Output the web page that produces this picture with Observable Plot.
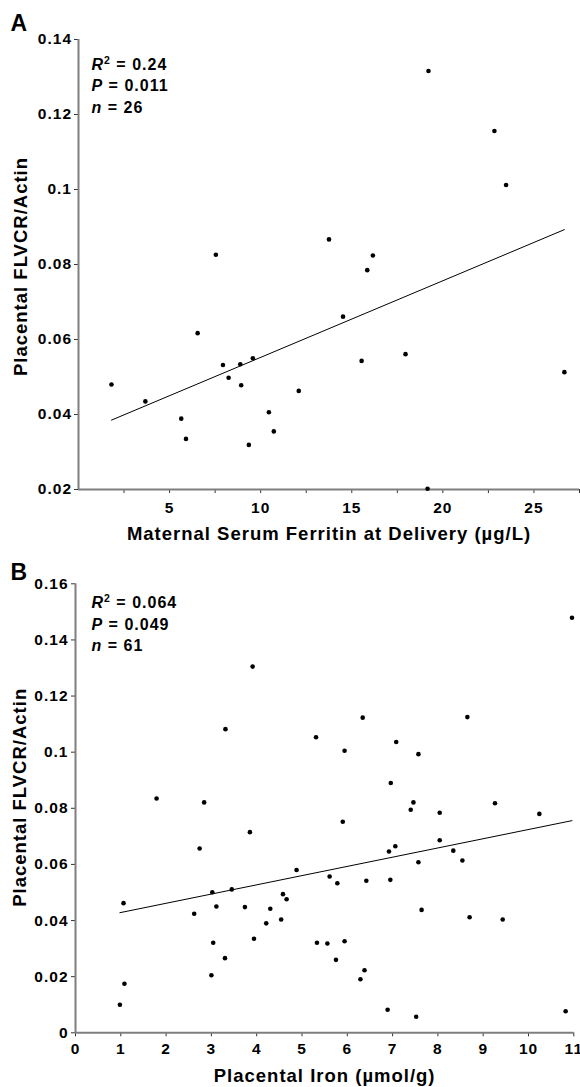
<!DOCTYPE html>
<html><head><meta charset="utf-8">
<script src="https://cdn.jsdelivr.net/npm/d3@7"></script>
<script src="https://cdn.jsdelivr.net/npm/@observablehq/plot@0.6"></script>
<style>
html,body{margin:0;padding:0;background:#fff;}
#chart{width:580px;}
#chart svg{display:block;}
#chart svg text{letter-spacing:1px;}
</style></head><body><div id="chart"></div>
<script>
// ---------- Panel A data ----------
const ferritinA = [1.81, 3.67, 5.64, 5.90, 6.54, 7.54, 7.93, 8.24, 8.88, 8.93, 9.35, 9.57, 10.45, 10.72, 12.09, 13.75, 14.52, 15.54, 15.85, 16.16, 17.95, 19.16, 19.21, 22.83, 23.47, 26.67];
const flvcrA    = [0.0480, 0.0435, 0.0389, 0.0335, 0.0617, 0.0826, 0.0532, 0.0498, 0.0534, 0.0478, 0.0319, 0.0550, 0.0406, 0.0355, 0.0463, 0.0867, 0.0661, 0.0543, 0.0785, 0.0824, 0.0561, 0.0202, 0.1316, 0.1156, 0.1012, 0.0513];
const fitAx = [1.81, 26.67];
const fitAy = [0.0385, 0.0893];
const statsA = ["R2 = 0.24", "P = 0.011", "n = 26"];
const xTicksA = [2.5, 5, 7.5, 10, 12.5, 15, 17.5, 20, 22.5, 25, 27.5];
const xLabelsA = [5, 10, 15, 20, 25];
const yTicksA = [0.02, 0.04, 0.06, 0.08, 0.10, 0.12, 0.14];

// ---------- Panel B data ----------
const ironB = [0.98, 1.06, 1.08, 1.79, 2.62, 2.74, 2.84, 3.00, 3.02, 3.04, 3.11, 3.30, 3.31, 3.45, 3.74, 3.85, 3.91, 3.94, 4.21, 4.30, 4.54, 4.58, 4.66, 4.88, 5.31, 5.33, 5.56, 5.61, 5.75, 5.78, 5.90, 5.94, 5.94, 6.29, 6.34, 6.38, 6.42, 6.89, 6.92, 6.95, 6.96, 7.06, 7.08, 7.40, 7.46, 7.52, 7.57, 7.57, 7.64, 8.04, 8.04, 8.34, 8.54, 8.65, 8.70, 9.26, 9.43, 10.24, 10.82, 10.96];
const flvcrB = [0.0100, 0.0462, 0.0175, 0.0835, 0.0424, 0.0657, 0.0821, 0.0205, 0.0501, 0.0321, 0.0450, 0.0266, 0.1082, 0.0511, 0.0448, 0.0715, 0.1305, 0.0335, 0.0390, 0.0442, 0.0404, 0.0494, 0.0476, 0.0580, 0.1053, 0.0321, 0.0318, 0.0557, 0.0260, 0.0533, 0.0752, 0.1005, 0.0326, 0.0191, 0.1123, 0.0223, 0.0542, 0.0082, 0.0646, 0.0545, 0.0890, 0.0665, 0.1036, 0.0795, 0.0821, 0.0057, 0.0993, 0.0608, 0.0438, 0.0784, 0.0686, 0.0649, 0.0614, 0.1125, 0.0412, 0.0818, 0.0404, 0.0780, 0.0077, 0.1479];
const fitBx = [0.98, 10.96];
const fitBy = [0.0428, 0.0756];
const statsB = ["R2 = 0.064", "P = 0.049", "n = 61"];
const xTicksB = [0, 1, 2, 3, 4, 5, 6, 7, 8, 9, 10, 11];
const yTicksB = [0, 0.02, 0.04, 0.06, 0.08, 0.10, 0.12, 0.14, 0.16];

const FONT = "'Liberation Sans', Arial, Helvetica, sans-serif";
const yFmt = d => d === 0 ? "0" : String(+d.toFixed(2));

function styleStats(svg) {
  const ns = "http://www.w3.org/2000/svg";
  svg.querySelectorAll("text").forEach(t => {
    const spans = t.querySelectorAll("tspan");
    const targets = spans.length ? Array.from(spans) : [t];
    targets.forEach(el => {
      const m = el.textContent.match(/^([A-Za-z])(\d?) = (.+)$/);
      if (!m) return;
      el.textContent = "";
      const a = document.createElementNS(ns, "tspan");
      a.setAttribute("font-style", "italic");
      a.textContent = m[1];
      el.appendChild(a);
      if (m[2]) {
        const s = document.createElementNS(ns, "tspan");
        s.setAttribute("font-size", "10.5");
        s.setAttribute("dy", "-6");
        s.textContent = m[2];
        el.appendChild(s);
        const r = document.createElementNS(ns, "tspan");
        r.setAttribute("dy", "6");
        r.textContent = " = " + m[3];
        el.appendChild(r);
      } else {
        el.appendChild(document.createTextNode(" = " + m[3]));
      }
    });
  });
}

function panel(o) {
  const pts = o.xs.map((x, i) => ({x, y: o.ys[i]}));
  const fit = o.fitX.map((x, i) => ({x, y: o.fitY[i]}));
  const svg = Plot.plot({
    width: 580,
    height: o.height,
    marginTop: o.mt, marginBottom: o.mb, marginLeft: o.ml, marginRight: o.mr,
    style: {fontFamily: FONT, background: "#fff", color: "#000", overflow: "visible"},
    x: {domain: o.xDomain},
    y: {domain: o.yDomain},
    marks: [
      Plot.axisX({ticks: o.xTicks, tickFormat: o.xFmt, tickSize: 4, tickPadding: o.xPad, fontSize: 15.5, fontWeight: "bold", label: null, stroke: "#333", fill: "#000"}),
      Plot.axisY({ticks: o.yTicks, tickFormat: yFmt, tickSize: 4, tickPadding: o.yPad, fontSize: 15.5, fontWeight: "bold", label: null, stroke: "#333", fill: "#000"}),
      Plot.ruleX([o.xDomain[0]], {stroke: "#7f7f7f", strokeWidth: 2}),
      Plot.ruleY([o.yDomain[0]], {stroke: "#7f7f7f", strokeWidth: 2}),
      Plot.line(fit, {x: "x", y: "y", stroke: "#000", strokeWidth: 1}),
      Plot.dot(pts, {x: "x", y: "y", r: 2.3, fill: "#000", stroke: "none"}),
      Plot.text([o.xLabel], {text: d => d, frameAnchor: "bottom", dy: o.xTitleDy, fontSize: 18.5, fontWeight: "bold", textAnchor: "middle", lineAnchor: "middle", fill: "#000"}),
      Plot.text([o.yLabel], {text: d => d, frameAnchor: "left", dx: o.yTitleDx, dy: o.yTitleDy, rotate: -90, fontSize: 18.5, fontWeight: "bold", textAnchor: "middle", lineAnchor: "middle", fill: "#000"}),
      Plot.text([o.letter], {text: d => d, frameAnchor: "top-left", dx: o.letterDx, dy: o.letterDy, fontSize: 23, fontWeight: "bold", textAnchor: "start", lineAnchor: "top", fill: "#000"}),
      Plot.text([o.stats.join("\n")], {text: d => d, frameAnchor: "top-left", dx: o.statsDx, dy: o.statsDy, fontSize: 16, fontWeight: "bold", textAnchor: "start", lineAnchor: "top", lineHeight: 1.35, fill: "#000"})
    ]
  });
  styleStats(svg);
  return svg;
}

const root = document.getElementById("chart");
root.appendChild(panel({
  letter: "A", xs: ferritinA, ys: flvcrA, fitX: fitAx, fitY: fitAy, stats: statsA,
  height: 548, mt: 39, mb: 59, ml: 78, mr: 1,
  xDomain: [0, 27.5], yDomain: [0.02, 0.14],
  xTicks: xTicksA, xFmt: d => xLabelsA.includes(d) ? String(d) : "", xPad: 8,
  yTicks: yTicksA, yPad: 2.5,
  xLabel: "Maternal Serum Ferritin at Delivery (µg/L)", yLabel: "Placental FLVCR/Actin",
  xTitleDy: 45, yTitleDx: -57, yTitleDy: 2,
  letterDx: -68, letterDy: -25, statsDx: 13, statsDy: 15
}));
root.appendChild(panel({
  letter: "B", xs: ironB, ys: flvcrB, fitX: fitBx, fitY: fitBy, stats: statsB,
  height: 539, mt: 35.3, mb: 54.7, ml: 75, mr: 6.7,
  xDomain: [0, 11], yDomain: [0, 0.16],
  xTicks: xTicksB, xFmt: d => String(d), xPad: 6,
  yTicks: yTicksB, yPad: 3,
  xLabel: "Placental Iron (µmol/g)", yLabel: "Placental FLVCR/Actin",
  xTitleDy: 43, yTitleDx: -55, yTitleDy: -11,
  letterDx: -65, letterDy: -20, statsDx: 16, statsDy: 9
}));
</script></body></html>
